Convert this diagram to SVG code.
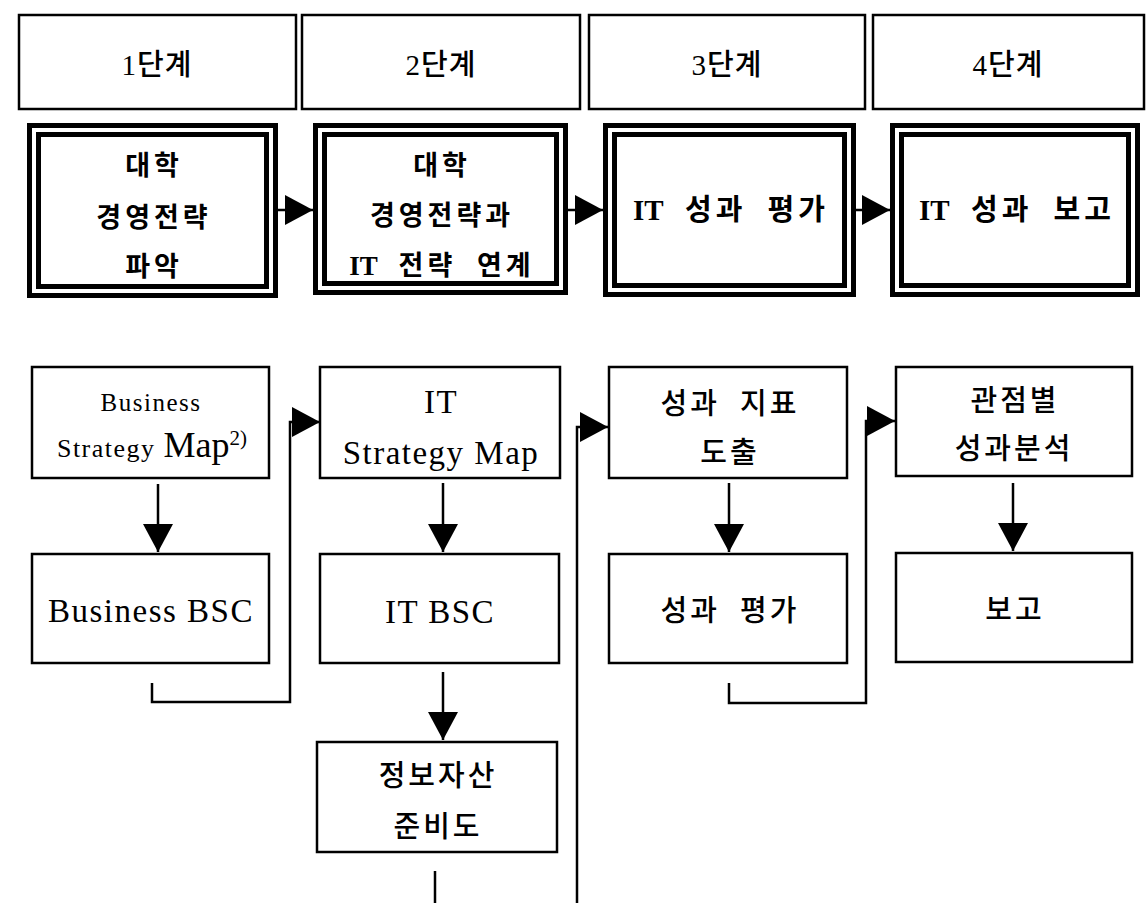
<svg xmlns="http://www.w3.org/2000/svg" width="1147" height="903" viewBox="0 0 1147 903">
<defs>
<style>
.bg{fill:#fff}
.hdr{fill:#fff;stroke:#000;stroke-width:2.5}
.box{fill:#fff;stroke:#000;stroke-width:2.5}
.thick{fill:none;stroke:#000;stroke-width:5}
.t{font-family:"Liberation Serif","Noto Sans CJK KR",serif;fill:#000;text-anchor:middle}
.k{font-size:27px;letter-spacing:4px;word-spacing:10px;font-weight:bold}
.h{font-size:29px;letter-spacing:1px;font-weight:500}
.l{font-size:33px;letter-spacing:1.5px}
.kb{font-size:29px;letter-spacing:3px;word-spacing:10px;font-weight:500}
.lat{letter-spacing:0}
.c{fill:none;stroke:#000;stroke-width:2.5}
</style>
<marker id="ah" viewBox="0 0 28 30" markerUnits="userSpaceOnUse" markerWidth="28" markerHeight="30" refX="28" refY="15" orient="auto">
<path d="M0,0 L28,15 L0,30 Z" fill="#000"/>
</marker>
</defs>
<rect class="bg" x="0" y="0" width="1147" height="903"/>

<g id="stage1"><rect class="hdr" x="19" y="15" width="277" height="94"/><text class="t h" x="157" y="75">1단계</text></g>
<g id="stage2"><rect class="hdr" x="302" y="15" width="278" height="94"/><text class="t h" x="441" y="75">2단계</text></g>
<g id="stage3"><rect class="hdr" x="589" y="15" width="276" height="94"/><text class="t h" x="727" y="75">3단계</text></g>
<g id="stage4"><rect class="hdr" x="873" y="15" width="271" height="94"/><text class="t h" x="1008" y="75">4단계</text></g>

<g id="step1">
<rect class="thick" x="29.5" y="125.5" width="246" height="170"/>
<rect class="thick" x="38.5" y="134.5" width="228" height="152"/>
<text class="t k" x="154" y="175">대학</text>
<text class="t k" x="154" y="227">경영전략</text>
<text class="t k" x="154" y="276">파악</text>
</g>
<g id="step2">
<rect class="thick" x="315.5" y="125.5" width="250" height="167"/>
<rect class="thick" x="324.5" y="134.5" width="232" height="149"/>
<text class="t k" x="442" y="175">대학</text>
<text class="t k" x="442" y="225">경영전략과</text>
<text class="t k" x="442" y="275"><tspan class="lat">IT</tspan> 전략 연계</text>
</g>
<g id="step3">
<rect class="thick" x="605.5" y="125.5" width="248" height="169"/>
<rect class="thick" x="614.5" y="134.5" width="230" height="151"/>
<text class="t k" x="731" y="220" style="font-size:29px"><tspan class="lat">IT</tspan> 성과 평가</text>
</g>
<g id="step4">
<rect class="thick" x="892.5" y="125.5" width="245" height="169"/>
<rect class="thick" x="901.5" y="134.5" width="227" height="151"/>
<text class="t k" x="1017" y="220" style="font-size:29px"><tspan class="lat">IT</tspan> 성과 보고</text>
</g>

<g id="bsm"><rect class="box" x="32" y="367" width="237" height="111"/>
<text class="t" x="151" y="411" style="font-size:25px;letter-spacing:1.5px">Business</text>
<text class="t" x="152" y="457"><tspan style="font-size:26px;letter-spacing:1.5px">Strategy </tspan><tspan style="font-size:36px">Map</tspan><tspan style="font-size:21px" dy="-12">2)</tspan></text>
</g>
<g id="bbsc"><rect class="box" x="32" y="554" width="237" height="109"/><text class="t l" x="151" y="622">Business BSC</text></g>
<g id="itsm"><rect class="box" x="320" y="367" width="240" height="111"/>
<text class="t l" x="441" y="413">IT</text>
<text class="t l" x="441" y="464">Strategy Map</text>
</g>
<g id="itbsc"><rect class="box" x="320" y="554" width="239" height="109"/><text class="t l" x="440" y="623">IT BSC</text></g>
<g id="asset"><rect class="box" x="317" y="742" width="240" height="110"/>
<text class="t kb" x="438" y="786">정보자산</text>
<text class="t kb" x="438" y="837">준비도</text>
</g>
<g id="kpi"><rect class="box" x="609" y="367" width="238" height="111"/>
<text class="t kb" x="730" y="414">성과 지표</text>
<text class="t kb" x="730" y="463">도출</text>
</g>
<g id="eval"><rect class="box" x="609" y="554" width="238" height="109"/><text class="t kb" x="730" y="621">성과 평가</text></g>
<g id="analysis"><rect class="box" x="896" y="367" width="236" height="109"/>
<text class="t kb" x="1015" y="411">관점별</text>
<text class="t kb" x="1014" y="459">성과분석</text>
</g>
<g id="report"><rect class="box" x="896" y="553" width="236" height="109"/><text class="t kb" x="1015" y="620">보고</text></g>

<g id="connectors">
<path class="c" d="M278,210 H313" marker-end="url(#ah)"/>
<path class="c" d="M568,210 H603" marker-end="url(#ah)"/>
<path class="c" d="M856,210 H890" marker-end="url(#ah)"/>
<path class="c" d="M158,484 V552" marker-end="url(#ah)"/>
<path class="c" d="M443,483 V552" marker-end="url(#ah)"/>
<path class="c" d="M729,483 V552" marker-end="url(#ah)"/>
<path class="c" d="M1013,483 V551" marker-end="url(#ah)"/>
<path class="c" d="M443,672 V740" marker-end="url(#ah)"/>
<path class="c" d="M152,683 V702 H290 V422 H320" marker-end="url(#ah)"/>
<path class="c" d="M729,683 V703 H866 V421 H895" marker-end="url(#ah)"/>
<path class="c" d="M435,871 V903"/>
<path class="c" d="M577,903 V427 H608" marker-end="url(#ah)"/>
</g>
</svg>
